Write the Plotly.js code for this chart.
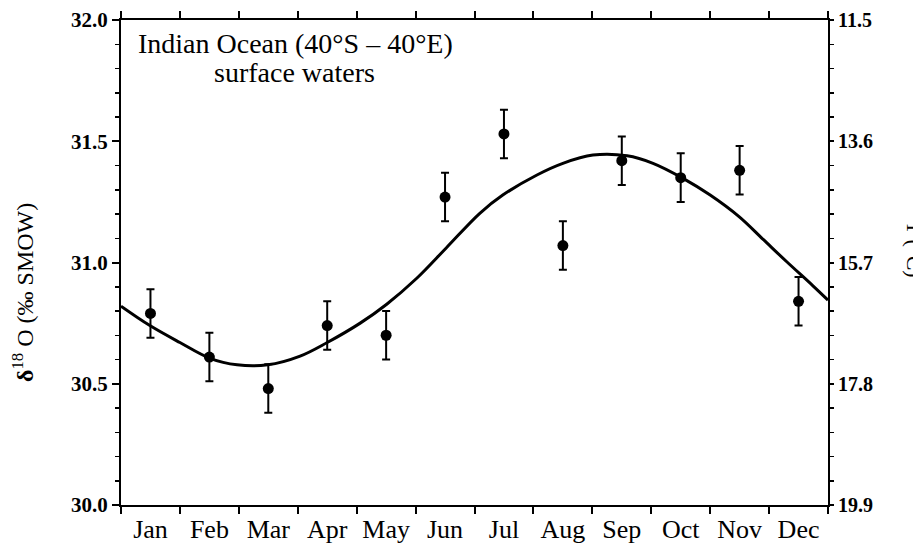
<!DOCTYPE html>
<html>
<head>
<meta charset="utf-8">
<script src="https://cdn.plot.ly/plotly-3.0.1.min.js"></script>
<style>html,body{margin:0;padding:0;background:#fff;}#chart{width:913px;height:552px;}</style>
</head>
<body>
<div id="chart"></div>
<script>
// Months (categories)
var months = ["Jan","Feb","Mar","Apr","May","Jun","Jul","Aug","Sep","Oct","Nov","Dec"];
// Monthly mean d18O values (per mil SMOW)
var d18O = [30.79, 30.61, 30.48, 30.74, 30.70, 31.27, 31.53, 31.07, 31.42, 31.35, 31.38, 30.84];
// Error bar half-lengths
var d18OErr = [0.10, 0.10, 0.10, 0.10, 0.10, 0.10, 0.10, 0.10, 0.10, 0.10, 0.10, 0.10];
// Fitted seasonal curve (x in months from start of Jan)
var curveX = [0.00, 0.49, 1.00, 1.51, 1.97, 2.49, 3.04, 3.50, 4.06, 4.51, 5.02, 5.52, 6.09, 6.48, 7.06, 7.50, 8.01, 8.59, 9.03, 9.54, 10.00, 10.49, 10.90, 11.30, 11.74, 12.00];
var curveY = [30.82, 30.74, 30.67, 30.605, 30.578, 30.578, 30.614, 30.67, 30.75, 30.828, 30.935, 31.06, 31.203, 31.278, 31.361, 31.409, 31.443, 31.44, 31.409, 31.347, 31.278, 31.189, 31.095, 31.003, 30.905, 30.845];
// Right axis (temperature) tick labels
var tempTicks = [11.5, 13.6, 15.7, 17.8, 19.9];

var pointX = months.map(function(m, i){ return i + 0.5; });

var serif = "Liberation Serif, Times New Roman, serif";

var traces = [
  {
    type: "scatter", mode: "lines",
    x: curveX, y: curveY,
    line: {color: "#000", width: 3, shape: "spline", smoothing: 1.0},
    hoverinfo: "skip", showlegend: false
  },
  {
    type: "scatter", mode: "markers",
    x: pointX, y: d18O,
    marker: {color: "#000", size: 11},
    error_y: {type: "data", array: d18OErr, visible: true, color: "#000", thickness: 2, width: 4},
    showlegend: false
  }
];

var layout = {
  width: 913, height: 552,
  margin: {l: 121, r: 85, t: 20, b: 47},
  paper_bgcolor: "#fff", plot_bgcolor: "#fff",
  showlegend: false,
  font: {family: serif, color: "#000"},
  xaxis: {
    range: [0, 12], tickmode: "array", tickvals: pointX, ticktext: months,
    ticks: "", showgrid: false, zeroline: false,
    showline: true, linecolor: "#000", linewidth: 2, mirror: "ticks",
    tickfont: {family: serif, size: 26, color: "#000"},
    minor: {tickmode: "linear", tick0: 0, dtick: 1, ticks: "outside", ticklen: 7, tickwidth: 2, tickcolor: "#000", showgrid: false}
  },
  yaxis: {
    range: [30, 32], dtick: 0.5, tick0: 30, tickformat: ".1f",
    ticks: "outside", ticklen: 7, tickwidth: 2, tickcolor: "#000",
    showgrid: false, zeroline: false,
    showline: true, linecolor: "#000", linewidth: 2, mirror: false,
    tickfont: {family: serif, size: 21, color: "#000", weight: "bold"},
    minor: {dtick: 0.1, ticks: "outside", ticklen: 4, tickwidth: 1.5, tickcolor: "#000", showgrid: false}
  },
  yaxis2: {
    overlaying: "y", side: "right", anchor: "x",
    range: [19.9, 11.5], tickmode: "array", tickvals: tempTicks,
    ticktext: tempTicks.map(function(v){ return v.toFixed(1); }),
    ticks: "outside", ticklen: 4, tickwidth: 2, tickcolor: "#000",
    showgrid: false, zeroline: false,
    showline: true, linecolor: "#000", linewidth: 2,
    tickfont: {family: serif, size: 20, color: "#000", weight: "bold"},
    minor: {tickmode: "linear", tick0: 11.5, dtick: 0.42, ticks: "outside", ticklen: 4, tickwidth: 1.5, tickcolor: "#000", showgrid: false}
  },
  annotations: [
    {
      text: "Indian Ocean (40°S – 40°E)",
      xref: "paper", yref: "paper",
      x: (295 - 121) / 707, y: (505 - 43) / 485,
      xanchor: "center", yanchor: "middle", align: "center",
      showarrow: false,
      font: {family: serif, size: 28, color: "#000"}
    },
    {
      text: "surface waters",
      xref: "paper", yref: "paper",
      x: (294 - 121) / 707, y: (505 - 73) / 485,
      xanchor: "center", yanchor: "middle", align: "center",
      showarrow: false,
      font: {family: serif, size: 28, color: "#000"}
    },
    {
      text: "<b>δ</b><sup>18</sup> O (‰ SMOW)",
      xref: "paper", yref: "paper",
      x: (23 - 121) / 707, y: (505 - 292) / 485,
      xanchor: "center", yanchor: "middle",
      textangle: -90, showarrow: false,
      font: {family: serif, size: 24, color: "#000"}
    },
    {
      text: "T (°C)",
      xref: "paper", yref: "paper",
      x: (915 - 121) / 707, y: (505 - 250) / 485,
      xanchor: "center", yanchor: "middle",
      textangle: 90, showarrow: false,
      font: {family: serif, size: 22, color: "#000"}
    }
  ]
};

// a hidden trace to bind the temperature axis
traces.push({type: "scatter", mode: "none", x: [], y: [], yaxis: "y2", hoverinfo: "skip", showlegend: false});

Plotly.newPlot("chart", traces, layout, {displayModeBar: false, staticPlot: true});
</script>
</body>
</html>
